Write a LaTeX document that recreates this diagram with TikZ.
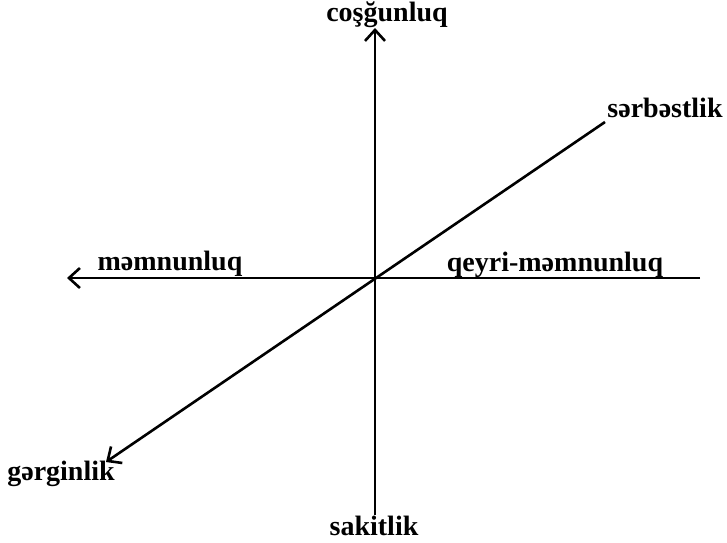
\documentclass[tikz,border=0pt]{standalone}
\usepackage{fontspec}
\setmainfont{Liberation Serif}
\usetikzlibrary{arrows.meta}
\tikzset{
  axisline/.style={line width=2.6pt, black},
  axislabel/.style={anchor=base, inner sep=0pt, font=\fontsize{28}{30}\selectfont\bfseries}
}

\begin{document}
\begin{tikzpicture}[x=1pt, y=-1pt, >={Straight Barb[length=11pt, width=20pt, line width=2.6pt]}]
  \useasboundingbox (0,0) rectangle (727,542);

  % axis ends
  \coordinate (O) at (375,278);
  \coordinate (top) at (375,28);
  \coordinate (bottom) at (375,515);
  \coordinate (left) at (67,278);
  \coordinate (right) at (700,278);
  \coordinate (upright) at (605,122);
  \coordinate (downleft) at (106,462);

  \draw[axisline, ->] (bottom) -- (top);
  \draw[axisline, ->] (right) -- (left);
  \draw[axisline, ->] (upright) -- (downleft);

  % labels
  \node[axislabel] (cosgunluq) at (387,21) {coşğunluq};
  \node[axislabel] (sakitlik) at (374,535) {sakitlik};
  \node[axislabel] (memnunluq) at (170,270) {məmnunluq};
  \node[axislabel] (qeyri) at (555,271) {qeyri-məmnunluq};
  \node[axislabel] (serbestlik) at (665,117) {sərbəstlik};
  \node[axislabel] (gerginlik) at (61,480) {gərginlik};
\end{tikzpicture}
\end{document}
